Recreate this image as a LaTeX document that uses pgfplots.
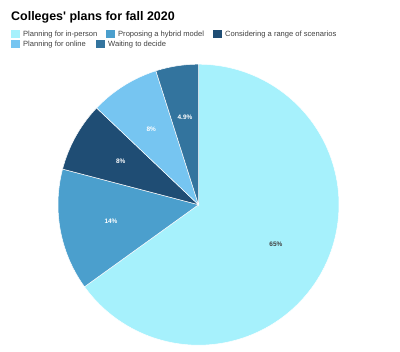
\documentclass[border=0pt]{standalone}
\usepackage{pgfplots}
\usepackage{pgfplotstable}
\pgfplotsset{compat=1.18}
\usepackage{fontspec}
\setmainfont{Liberation Sans}
\newfontfamily\plainfont{Liberation Sans}
\definecolor{pie0}{HTML}{A6F1FC}
\definecolor{pie1}{HTML}{4B9FCD}
\definecolor{pie2}{HTML}{1F4D74}
\definecolor{pie3}{HTML}{76C5F1}
\definecolor{pie4}{HTML}{33749E}
\definecolor{txt}{HTML}{404040}
\pgfplotstableread{
value
65
14
8
8
4.9
}\piedata
\begin{document}
\begin{tikzpicture}[x=1bp,y=1bp]
\useasboundingbox (0,0) rectangle (400,352);
% totals and angles from the table
\gdef\tot{0}
\foreach \i in {0,...,4}{%
  \pgfplotstablegetelem{\i}{value}\of\piedata
  \pgfmathsetmacro\tmp{\tot+\pgfplotsretval}\xdef\tot{\tmp}}
\gdef\cum{0}
\foreach \i in {0,...,4}{%
  \pgfplotstablegetelem{\i}{value}\of\piedata
  \pgfmathsetmacro\as{90-360*(\cum/\tot)}
  \pgfmathsetmacro\tmp{\cum+\pgfplotsretval}\xdef\cum{\tmp}
  \pgfmathsetmacro\ae{90-360*(\cum/\tot)}
  \pgfmathsetmacro\am{(\as+\ae)/2}
  \expandafter\xdef\csname aS\i\endcsname{\as}
  \expandafter\xdef\csname aE\i\endcsname{\ae}
  \expandafter\xdef\csname aM\i\endcsname{\am}}
\edef\aMa{\csname aM0\endcsname}
\edef\aMb{\csname aM1\endcsname}
\edef\aMc{\csname aM2\endcsname}
\edef\aMd{\csname aM3\endcsname}
\edef\aMe{\csname aM4\endcsname}
\begin{axis}[at={(0,0)},anchor=south west,scale only axis,
  width=400bp,height=352bp,xmin=0,xmax=400,ymin=0,ymax=352,
  hide axis,clip=false]
\pgfplotsinvokeforeach{0,...,4}{
  \edef\lo{\csname aE#1\endcsname}\edef\hi{\csname aS#1\endcsname}
  \addplot[fill=pie#1,draw=white,line width=0.5bp,domain=\lo:\hi,samples=120,variable=\t]
    ({198.5+140.5*cos(t)},{147.3+140.5*sin(t)}) -- (axis cs:198.5,147.3) -- cycle;
}
\tikzset{pl/.style={font=\fontsize{6.5}{8}\selectfont\bfseries}}
\node[pl,text=txt] at (axis cs:{198.5+87*cos(\aMa)},{147.3+87*sin(\aMa)}) {65\%};
\node[pl,text=white] at (axis cs:{198.5+89*cos(\aMb)},{147.3+89*sin(\aMb)}) {14\%};
\node[pl,text=white] at (axis cs:{198.5+89*cos(\aMc)},{147.3+89*sin(\aMc)}) {8\%};
\node[pl,text=white] at (axis cs:{198.5+89*cos(\aMd)},{147.3+89*sin(\aMd)}) {8\%};
\node[pl,text=white] at (axis cs:{198.5+88*cos(\aMe)},{147.3+88*sin(\aMe)}) {4.9\%};
\end{axis}
% title
\node[anchor=base west,inner sep=0,font=\plainfont\fontsize{12.5}{14}\selectfont\bfseries] at (11,331.3) {Colleges' plans for fall 2020};
% legend
\tikzset{lg/.style={anchor=base west,inner sep=0,text=txt,font=\fontsize{7.6}{9}\selectfont}}
\fill[pie0] (11,314) rectangle (20,322);
\node[lg] at (23,316) {Planning for in-person};
\fill[pie1] (106,314) rectangle (115,322);
\node[lg] at (118,316) {Proposing a hybrid model};
\fill[pie2] (213,314) rectangle (222,322);
\node[lg] at (225,316) {Considering a range of scenarios};
\fill[pie3] (11,304) rectangle (20,312);
\node[lg] at (23,306) {Planning for online};
\fill[pie4] (96,304) rectangle (105,312);
\node[lg] at (108,306) {Waiting to decide};
\end{tikzpicture}
\end{document}
